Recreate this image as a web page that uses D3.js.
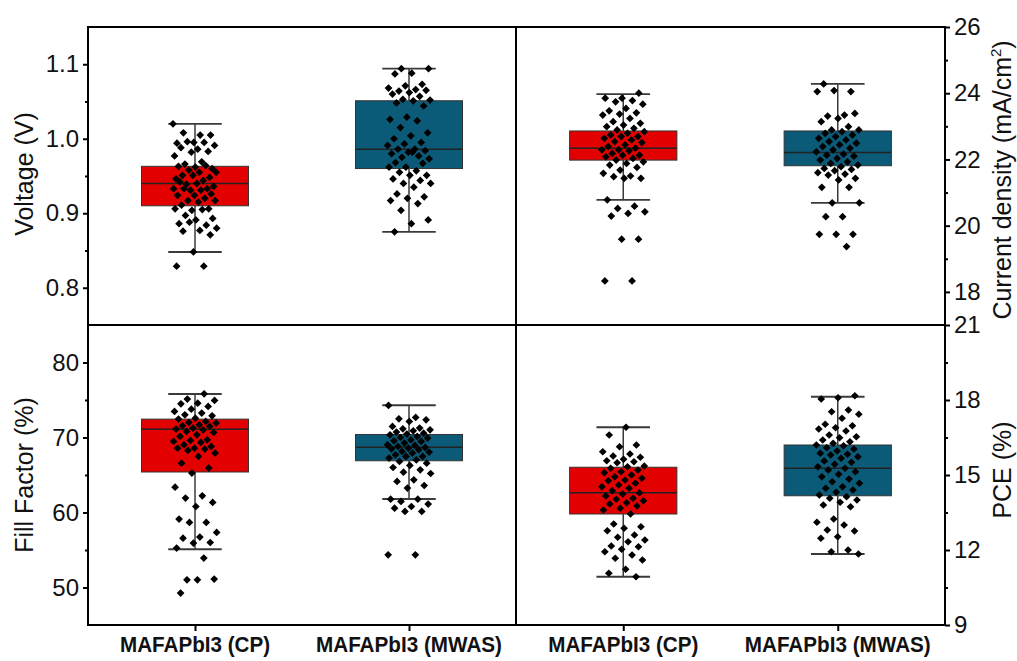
<!DOCTYPE html>
<html>
<head>
<meta charset="utf-8">
<script src="https://cdn.jsdelivr.net/npm/d3@7"></script>
<style>
  body { margin: 0; background: #fff; }
  svg { display: block; font-family: Arial, "Liberation Sans", sans-serif; }
</style>
</head>
<body>
<svg id="chart" width="1017" height="661"></svg>
<script>
// categories
var groups = ["MAFAPbI3 (CP)", "MAFAPbI3 (MWAS)"];

var voltageCP = [1.020, 1.005, 1.008, 1.005, 0.995, 0.994, 0.995, 0.996, 0.991, 0.986, 0.988, 0.983, 0.982, 0.977,
  0.969, 0.966, 0.960, 0.962, 0.963, 0.964, 0.958, 0.955, 0.955, 0.951, 0.948, 0.951, 0.946, 0.944, 0.939, 0.936,
  0.940, 0.942, 0.933, 0.931, 0.933, 0.931, 0.933, 0.926, 0.924, 0.924, 0.920, 0.917, 0.917, 0.915, 0.911, 0.906,
  0.904, 0.906, 0.905, 0.897, 0.893, 0.891, 0.886, 0.884, 0.888, 0.880, 0.877, 0.876, 0.871, 0.848, 0.829, 0.829];
var voltageMWAS = [1.094, 1.094, 1.088, 1.087, 1.073, 1.071, 1.068, 1.066, 1.064, 1.065, 1.062, 1.060, 1.057, 1.053,
  1.052, 1.051, 1.048, 1.044, 1.029, 1.026, 1.024, 1.015, 1.008, 1.004, 1.000, 0.995, 0.993, 0.991, 0.986, 0.986,
  0.984, 0.982, 0.980, 0.977, 0.975, 0.973, 0.982, 0.968, 0.967, 0.962, 0.962, 0.957, 0.955, 0.951, 0.951, 0.946,
  0.944, 0.940, 0.940, 0.935, 0.926, 0.922, 0.920, 0.917, 0.913, 0.904, 0.891, 0.886, 0.875];
var jscCP = [24.00, 23.85, 23.85, 23.78, 23.74, 23.67, 23.54, 23.47, 23.41, 23.37, 23.34, 23.24, 23.14, 23.09, 23.04,
  22.99, 22.94, 22.89, 22.84, 22.79, 22.74, 22.69, 22.69, 22.64, 22.59, 22.54, 22.51, 22.44, 22.39, 22.34, 22.29,
  22.29, 22.26, 22.18, 22.13, 22.13, 22.08, 22.03, 21.98, 21.93, 21.88, 21.83, 21.76, 21.68, 21.58, 21.50, 21.48,
  21.43, 21.43, 20.78, 20.59, 20.52, 20.42, 20.37, 20.29, 19.59, 19.59, 18.33, 18.33];
var jscMWAS = [24.28, 24.05, 24.08, 24.05, 23.34, 23.31, 23.39, 23.24, 23.14, 22.99, 22.89, 22.89, 22.84, 22.79,
  22.74, 22.69, 22.64, 22.59, 22.54, 22.49, 22.44, 22.39, 22.34, 22.29, 22.23, 22.16, 22.13, 22.10, 22.03, 21.98,
  21.93, 21.88, 21.83, 21.78, 21.73, 21.70, 21.66, 21.60, 21.56, 21.53, 21.43, 21.38, 21.16, 21.16, 20.69, 20.69,
  20.27, 20.27, 19.74, 19.74, 19.74, 19.37];
var ffCP = [75.83, 75.12, 74.94, 74.58, 74.49, 74.14, 73.78, 73.47, 73.25, 73.03, 72.89, 72.58, 72.45, 72.14, 72.00,
  71.92, 71.69, 71.56, 71.47, 71.25, 71.12, 71.03, 70.80, 70.67, 70.36, 70.14, 69.69, 69.60, 69.47, 69.34, 69.03,
  68.80, 68.58, 68.58, 68.45, 68.27, 67.92, 67.47, 66.58, 65.92, 65.25, 63.38, 62.23, 61.92, 61.34, 60.80, 59.12,
  58.67, 58.67, 57.34, 56.72, 56.58, 56.00, 55.92, 55.25, 53.92, 51.03, 51.12, 51.03, 49.25];
var ffMWAS = [74.27, 72.67, 72.49, 72.36, 72.14, 71.47, 71.25, 71.16, 71.03, 70.89, 70.72, 70.58, 70.45, 70.36,
  70.14, 70.00, 69.92, 69.69, 69.56, 69.47, 69.25, 69.03, 68.94, 68.80, 68.67, 68.58, 68.49, 68.36, 68.14, 68.05,
  67.92, 67.69, 67.47, 67.47, 67.25, 67.03, 66.80, 66.58, 66.27, 66.00, 65.69, 65.38, 65.20, 64.36, 64.14, 63.60,
  63.25, 61.78, 61.78, 61.47, 61.12, 60.80, 60.58, 60.14, 60.14, 54.36, 54.36];
var pceCP = [16.91, 16.60, 16.20, 16.13, 15.93, 15.84, 15.76, 15.71, 15.63, 15.57, 15.53, 15.49, 15.36, 15.33, 15.27,
  15.20, 15.13, 15.09, 15.00, 14.93, 14.87, 14.80, 14.77, 14.67, 14.60, 14.53, 14.47, 14.37, 14.29, 14.24, 14.16,
  14.07, 14.03, 13.97, 13.89, 13.84, 13.76, 13.67, 13.60, 13.44, 13.04, 12.93, 12.87, 12.77, 12.60, 12.51, 12.40,
  12.33, 12.16, 12.13, 12.03, 11.93, 11.80, 11.67, 11.60, 11.23, 11.07, 10.93];
var pceMWAS = [18.17, 18.09, 18.04, 17.60, 17.53, 17.43, 17.27, 17.03, 16.97, 16.89, 16.84, 16.76, 16.60, 16.53,
  16.49, 16.40, 16.33, 16.27, 16.20, 16.17, 16.09, 16.04, 15.96, 15.87, 15.83, 15.80, 15.73, 15.67, 15.56, 15.51,
  15.43, 15.33, 15.27, 15.20, 15.13, 15.03, 14.93, 14.84, 14.73, 14.67, 14.53, 14.47, 14.40, 14.31, 14.20, 14.13,
  14.07, 14.00, 13.91, 13.80, 13.73, 13.24, 13.11, 13.00, 12.80, 12.76, 12.53, 12.47, 12.00, 11.93, 11.84];

// box stats: [whisker low, q1, median, q3, whisker high]
var voltageBox = [[0.848, 0.910, 0.940, 0.963, 1.020], [0.875, 0.960, 0.986, 1.051, 1.094]];
var jscBox = [[20.78, 21.98, 22.34, 22.86, 23.97], [20.69, 21.81, 22.21, 22.86, 24.28]];
var ffBox = [[55.1, 65.4, 71.1, 72.45, 75.8], [61.8, 66.9, 68.7, 70.4, 74.3]];
var pceBox = [[10.93, 13.44, 14.29, 15.31, 16.91], [11.84, 14.17, 15.27, 16.20, 18.13]];

// tick labels
var voltageTicks = [0.8, 0.9, 1.0, 1.1], voltageMinor = [0.85, 0.95, 1.05];
var jscTicks = [18, 20, 22, 24, 26], jscMinor = [19, 21, 23, 25];
var ffTicks = [50, 60, 70, 80], ffMinor = [55, 65, 75];
var pceTicks = [9, 12, 15, 18, 21], pceMinor = [10.5, 13.5, 16.5, 19.5];

var colors = ["#e30000", "#0a5a78"];

(function () {
  var svg = d3.select("#chart");
  var fLeft = 88, fMid = 516, fRight = 945, fTop = 27, fHmid = 325, fBottom = 625;

  var panels = [
    { x0: fLeft, x1: fMid, y0: fTop, y1: fHmid, values: [voltageCP, voltageMWAS], box: voltageBox,
      domain: [0.75, 1.15], ticks: voltageTicks, minor: voltageMinor, side: "left", fmt: d3.format(".1f"),
      title: "Voltage (V)", titleY: 174 },
    { x0: fMid, x1: fRight, y0: fTop, y1: fHmid, values: [jscCP, jscMWAS], box: jscBox,
      domain: [17, 26], ticks: jscTicks, minor: jscMinor, side: "right", fmt: d3.format("d"),
      title: "Current density (mA/cm", titleY: 180 },
    { x0: fLeft, x1: fMid, y0: fHmid, y1: fBottom, values: [ffCP, ffMWAS], box: ffBox,
      domain: [45, 85], ticks: ffTicks, minor: ffMinor, side: "left", fmt: d3.format("d"),
      title: "Fill Factor (%)", titleY: 475 },
    { x0: fMid, x1: fRight, y0: fHmid, y1: fBottom, values: [pceCP, pceMWAS], box: pceBox,
      domain: [9, 21], ticks: pceTicks, minor: pceMinor, side: "right", fmt: d3.format("d"),
      title: "PCE (%)", titleY: 470 }
  ];

  var diamond = d3.symbol().type(d3.symbolSquare).size(30);

  panels.forEach(function (p, pi) {
    var x = d3.scalePoint().domain(groups).range([p.x0, p.x1]).padding(0.5);
    var y = d3.scaleLinear().domain(p.domain).range([p.y1, p.y0]);
    var bw = x.step() / 2;
    var g = svg.append("g");

    groups.forEach(function (name, gi) {
      var cx = x(name), b = p.box[gi];
      // caps
      [b[0], b[4]].forEach(function (v) {
        g.append("line").attr("x1", cx - bw / 4).attr("x2", cx + bw / 4)
          .attr("y1", y(v)).attr("y2", y(v))
          .attr("stroke", "#3a3a3a").attr("stroke-width", 1.8);
      });
      // box + median
      g.append("rect").attr("x", cx - bw / 2).attr("width", bw)
        .attr("y", y(b[3])).attr("height", y(b[1]) - y(b[3]))
        .attr("fill", colors[gi]).attr("stroke", "#333").attr("stroke-width", 1);
      g.append("line").attr("x1", cx - bw / 2).attr("x2", cx + bw / 2)
        .attr("y1", y(b[2])).attr("y2", y(b[2]))
        .attr("stroke", "#222").attr("stroke-width", 1.5);
      // whiskers outside the box
      g.append("line").attr("x1", cx).attr("x2", cx).attr("y1", y(b[0])).attr("y2", y(b[1]))
        .attr("stroke", "#3a3a3a").attr("stroke-width", 1.5);
      g.append("line").attr("x1", cx).attr("x2", cx).attr("y1", y(b[3])).attr("y2", y(b[4]))
        .attr("stroke", "#3a3a3a").attr("stroke-width", 1.5);

      // jittered points (deterministic spread)
      g.selectAll(null).data(p.values[gi]).enter().append("path")
        .attr("d", diamond)
        .attr("transform", function (d, i) {
          var u = ((i + pi * 3 + gi * 7) * 0.6180339887) % 1;
          var dx = (u - 0.5) * 44;
          return "translate(" + (cx + dx) + "," + y(d) + ") rotate(45)";
        })
        .attr("fill", "#000");
    });

    // axes
    var axisX = p.side === "left" ? p.x0 : p.x1;
    var axis = (p.side === "left" ? d3.axisLeft(y) : d3.axisRight(y))
      .tickValues(p.ticks).tickFormat(p.fmt).tickSize(5).tickPadding(4);
    var ax = svg.append("g").attr("transform", "translate(" + axisX + ",0)").call(axis);
    ax.select(".domain").remove();
    ax.selectAll("line").attr("stroke", "#000").attr("stroke-width", 2);
    ax.selectAll("text").attr("font-size", 24).attr("fill", "#111")
      .attr("font-family", "Arial, 'Liberation Sans', sans-serif");
    var mAxis = (p.side === "left" ? d3.axisLeft(y) : d3.axisRight(y))
      .tickValues(p.minor).tickFormat("").tickSize(3);
    var mx = svg.append("g").attr("transform", "translate(" + axisX + ",0)").call(mAxis);
    mx.select(".domain").remove();
    mx.selectAll("line").attr("stroke", "#000").attr("stroke-width", 2);

    // axis title
    var tx = p.side === "left" ? 33 : 1011;
    var t = svg.append("text")
      .attr("transform", "translate(" + tx + "," + p.titleY + ") rotate(-90)")
      .attr("text-anchor", "middle")
      .attr("font-size", 25).attr("fill", "#111")
      .text(p.title);
    if (pi === 1) {
      t.append("tspan").attr("font-size", 15).attr("dy", -10).text("2");
      t.append("tspan").attr("dy", 10).text(")");
    }

    // bottom category labels
    if (p.y1 === fBottom) {
      var xa = svg.append("g").attr("transform", "translate(0," + fBottom + ")")
        .call(d3.axisBottom(x).tickSize(6).tickFormat(""));
      xa.select(".domain").remove();
      xa.selectAll("line").attr("stroke", "#000").attr("stroke-width", 2);
      groups.forEach(function (name, gi) {
        svg.append("text").attr("x", x(name)).attr("y", 652)
          .attr("text-anchor", "middle").attr("font-weight", "bold")
          .attr("font-size", 22).attr("fill", "#111")
          .attr("textLength", gi === 0 ? 150 : 186).attr("lengthAdjust", "spacingAndGlyphs")
          .text(name);
      });
    }
  });

  // frame
  svg.append("rect").attr("x", fLeft).attr("y", fTop).attr("width", fRight - fLeft).attr("height", fBottom - fTop)
    .attr("fill", "none").attr("stroke", "#000").attr("stroke-width", 2);
  svg.append("line").attr("x1", fLeft).attr("x2", fRight).attr("y1", fHmid).attr("y2", fHmid)
    .attr("stroke", "#000").attr("stroke-width", 2);
  svg.append("line").attr("x1", fMid).attr("x2", fMid).attr("y1", fTop).attr("y2", fBottom)
    .attr("stroke", "#000").attr("stroke-width", 2);
})();
</script>
</body>
</html>
